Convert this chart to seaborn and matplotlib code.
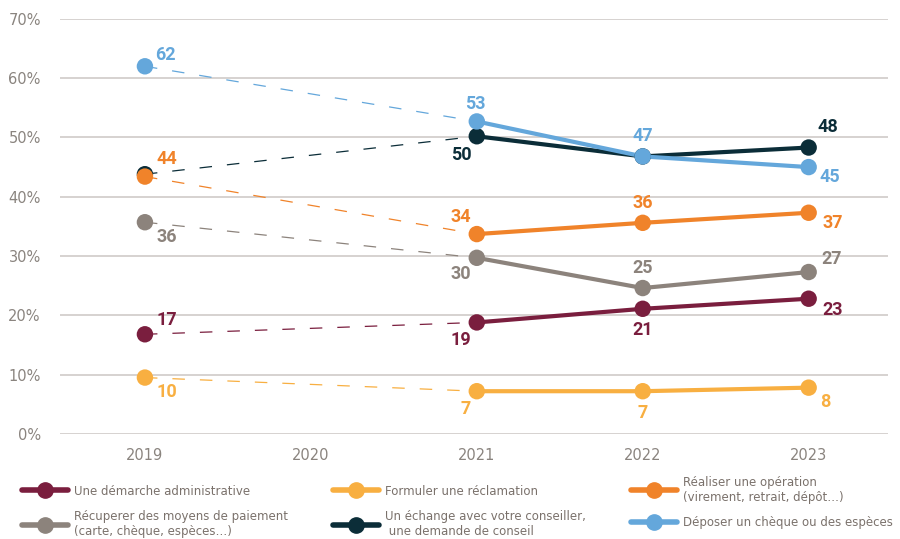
import matplotlib
matplotlib.use("Agg")
import matplotlib.pyplot as plt
import seaborn as sns
import pandas as pd
from matplotlib.lines import Line2D

years = [2019, 2021, 2022, 2023]
xticks = [2019, 2020, 2021, 2022, 2023]

names = [
    "Une démarche administrative",
    "Formuler une réclamation",
    "Réaliser une opération\n(virement, retrait, dépôt…)",
    "Récuperer des moyens de paiement\n(carte, chèque, espèces…)",
    "Un échange avec votre conseiller,\n une demande de conseil",
    "Déposer un chèque ou des espèces",
]
demarche = [16.8, 18.8, 21.1, 22.8]
reclamation = [9.5, 7.2, 7.2, 7.8]
operation = [43.4, 33.7, 35.6, 37.3]
paiement = [35.7, 29.7, 24.6, 27.3]
conseil = [43.8, 50.2, 46.8, 48.3]
depot = [62.0, 52.7, 46.8, 45.0]

lab_demarche = ["17", "19", "21", "23"]
lab_reclamation = ["10", "7", "7", "8"]
lab_operation = ["44", "34", "36", "37"]
lab_paiement = ["36", "30", "25", "27"]
lab_conseil = ["", "50", "", "48"]
lab_depot = ["62", "53", "47", "45"]

colors = ["#7A1E3E", "#F8AF41", "#F0832A", "#8C837C", "#0B2D38", "#64A7DB"]
series = [demarche, reclamation, operation, paiement, conseil, depot]
labels = [lab_demarche, lab_reclamation, lab_operation, lab_paiement, lab_conseil, lab_depot]

# label offsets in points (dx, dy, ha, va)
offsets = [
    [(8, 4, "left", "bottom"), (-4, -6, "right", "top"), (0, -9, "center", "top"), (10, -2, "left", "top")],
    [(8, -4, "left", "top"), (-4, -6, "right", "top"), (0, -9, "center", "top"), (8, -4, "left", "top")],
    [(8, 6, "left", "bottom"), (-4, 6, "right", "bottom"), (0, 8, "center", "bottom"), (10, -1, "left", "top")],
    [(8, -4, "left", "top"), (-4, -5, "right", "top"), (0, 8, "center", "bottom"), (9, 3, "left", "bottom")],
    [(0, 0, "left", "bottom"), (-4, -7, "right", "top"), (0, 0, "center", "bottom"), (6, 8, "left", "bottom")],
    [(7, 2, "left", "bottom"), (-1, 6, "center", "bottom"), (0, 8, "center", "bottom"), (8, -1, "left", "top")],
]

sns.set_theme(style="white")
plt.rcParams["font.family"] = ["DejaVu Sans"]

fig = plt.figure(figsize=(9, 5.39), dpi=100)
ax = fig.add_axes([0.067, 0.195, 0.92, 0.77])

for i, (vals, c) in enumerate(zip(series, colors)):
    df_d = pd.DataFrame({"x": years[:2], "y": vals[:2]})
    df_s = pd.DataFrame({"x": years[1:], "y": vals[1:]})
    sns.lineplot(data=df_d, x="x", y="y", ax=ax, color=c, lw=0.9, dashes=False,
                 linestyle=(0, (10, 12)), zorder=2)
    sns.lineplot(data=df_s, x="x", y="y", ax=ax, color=c, lw=3, zorder=3)
    df_p = pd.DataFrame({"x": years, "y": vals})
    sns.scatterplot(data=df_p, x="x", y="y", ax=ax, color=c, s=140, edgecolor="none",
                    zorder=4 + (0 if i != 2 else 1))

for vals, labs, c, offs in zip(series, labels, colors, offsets):
    for x, v, t, (dx, dy, ha, va) in zip(years, vals, labs, offs):
        if not t:
            continue
        ax.annotate(t, (x, v), xytext=(dx, dy), textcoords="offset points",
                    ha=ha, va=va, color=c, fontsize=13, fontweight="bold",
                    family="Roboto", zorder=6)

ax.set_xlim(2018.49, 2023.48)
ax.set_ylim(0, 70)
ax.set_yticks(range(0, 71, 10))
ax.set_yticklabels([f"{v}%" for v in range(0, 71, 10)])
ax.set_xticks(xticks)
ax.set_xticklabels([str(y) for y in xticks])
ax.set_xlabel("")
ax.set_ylabel("")
ax.grid(axis="y", color="#D3CFCD", lw=1.3)
ax.grid(axis="x", visible=False)
for s in ax.spines.values():
    s.set_visible(False)
ax.tick_params(axis="both", colors="#8A847F", labelsize=10.5, length=0)
ax.tick_params(axis="y", pad=14)
ax.tick_params(axis="x", pad=10)

handles = [Line2D([0], [0], color=c, lw=4, marker="o", markersize=11,
                  solid_capstyle="round") for c in colors]
order = [0, 3, 1, 4, 2, 5]
leg = fig.legend([handles[i] for i in order], [names[i] for i in order],
                 loc="lower left", bbox_to_anchor=(0.013, -0.018), ncol=3, frameon=False,
                 fontsize=8.45, handlelength=3.9, handletextpad=0.55, columnspacing=3.8,
                 labelspacing=1.07, labelcolor="#7A716B")

fig.savefig("out.png", dpi=100)
